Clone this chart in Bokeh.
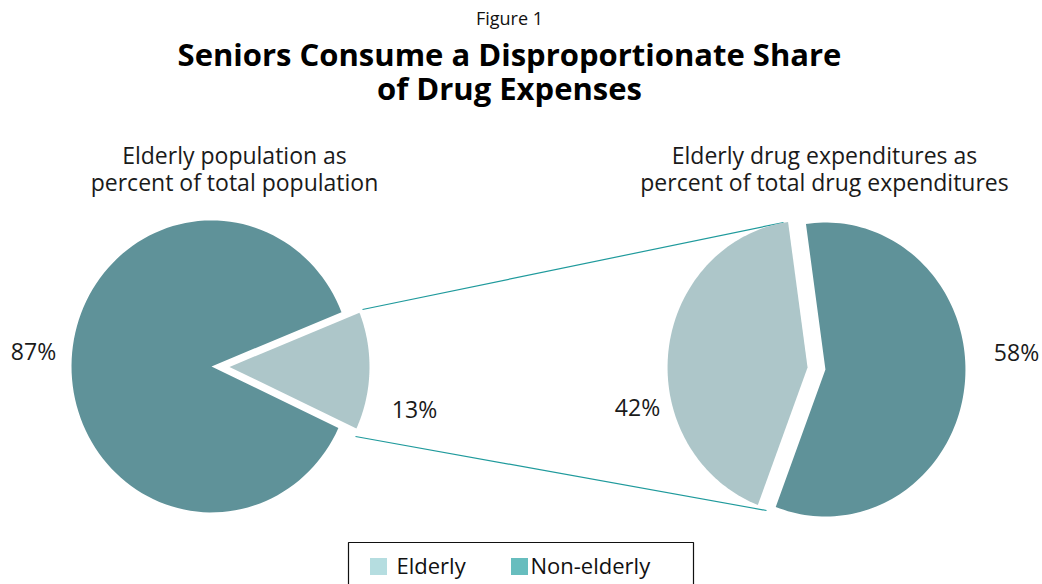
import numpy as np
from bokeh.plotting import figure
from bokeh.models import Range1d
from bokeh.core.properties import value
from bokeh.embed import file_html
from bokeh.resources import INLINE

# ---------------- data ----------------
categories = ["Elderly", "Non-elderly"]
population_share = [13, 87]          # percent of total population
drug_spending_share = [42, 58]       # percent of total drug expenditures
pie_colors = ["#adc6c9", "#5f9299"]
legend_colors = ["#b5dde0", "#67bdbe"]

title_small = "Figure 1"
title_lines = ["Seniors Consume a Disproportionate Share", "of Drug Expenses"]
left_sub = ["Elderly population as", "percent of total population"]
right_sub = ["Elderly drug expenditures as", "percent of total drug expenditures"]

FONT = "Open Sans"

W, H = 1042, 584
p = figure(width=W, height=H, output_backend="svg", toolbar_location=None,
           x_range=Range1d(0, W), y_range=Range1d(-H, 0),
           min_border=0, outline_line_color=None)
p.axis.visible = False
p.grid.visible = False
p.background_fill_color = "white"


def Y(v):
    return -v


def wedge_poly(cx, cy, rx, ry, a0, a1, off, n=120):
    mid = np.deg2rad((a0 + a1) / 2)
    ox = cx + off * np.cos(mid)
    oy = cy - off * np.sin(mid)
    t = np.deg2rad(np.linspace(a0, a1, n))
    xs = np.concatenate([[ox], ox + rx * np.cos(t)])
    ys = np.concatenate([[oy], oy - ry * np.sin(t)])
    return list(xs), [Y(v) for v in ys]


def draw_pie(cx, cy, rx, ry, shares, elderly_mid, offsets):
    sweep0 = shares[0] * 3.6
    a0 = elderly_mid - sweep0 / 2
    a1 = a0 + sweep0
    xs_e, ys_e = wedge_poly(cx, cy, rx, ry, a0, a1, offsets[0])
    xs_n, ys_n = wedge_poly(cx, cy, rx, ry, a1, a0 + 360, offsets[1])
    p.patches([xs_e, xs_n], [ys_e, ys_n], fill_color=pie_colors,
              line_color=None)


# connector lines (behind pies)
p.segment(x0=[362, 355], y0=[Y(309), Y(436)], x1=[783, 766], y1=[Y(222), Y(510)],
          line_color="#1f9a9c", line_width=1.2)

draw_pie(214, 366, 140, 146, population_share, -1.6, (15, 3))
draw_pie(816, 368, 140, 147, drug_spending_share, 173.6, (9, 9))

TXT = "#1a1a1a"
# percent labels
p.text(x=[33, 414], y=[Y(350), Y(408)],
       text=[f"{population_share[1]}%", f"{population_share[0]}%"],
       text_font=value(FONT), text_font_size="23px", text_color=TXT,
       text_align="center", text_baseline="middle")
p.text(x=[637, 1016], y=[Y(406), Y(351)],
       text=[f"{drug_spending_share[0]}%", f"{drug_spending_share[1]}%"],
       text_font=value(FONT), text_font_size="23px", text_color=TXT,
       text_align="center", text_baseline="middle")

# titles
p.text(x=[509], y=[Y(17)], text=[title_small], text_font=value(FONT),
       text_font_size="18px", text_color="#111111", text_align="center",
       text_baseline="middle")
p.text(x=[509, 509], y=[Y(53.5), Y(87)], text=title_lines, text_font=value(FONT),
       text_font_size="31px", text_font_style="bold", text_color="#000000",
       text_align="center", text_baseline="middle")

# sub titles
p.text(x=[234, 234], y=[Y(154.5), Y(181.5)], text=left_sub, text_font=value(FONT),
       text_font_size="23px", text_color=TXT, text_align="center",
       text_baseline="middle")
p.text(x=[824, 824], y=[Y(154.5), Y(181.5)], text=right_sub, text_font=value(FONT),
       text_font_size="23px", text_color=TXT, text_align="center",
       text_baseline="middle")

# legend
p.quad(left=[348], right=[693], top=[Y(542)], bottom=[Y(600)],
       fill_color=None, line_color="#111111", line_width=1.2)
p.rect(x=[378, 519], y=[Y(566), Y(566)], width=17, height=17,
       fill_color=legend_colors, line_color=None)
p.text(x=[396, 530], y=[Y(564), Y(564)], text=categories, text_font=value(FONT),
       text_font_size="22px", text_color="#111111", text_align="left",
       text_baseline="middle")

open("out.html", "w").write(file_html(p, INLINE))
